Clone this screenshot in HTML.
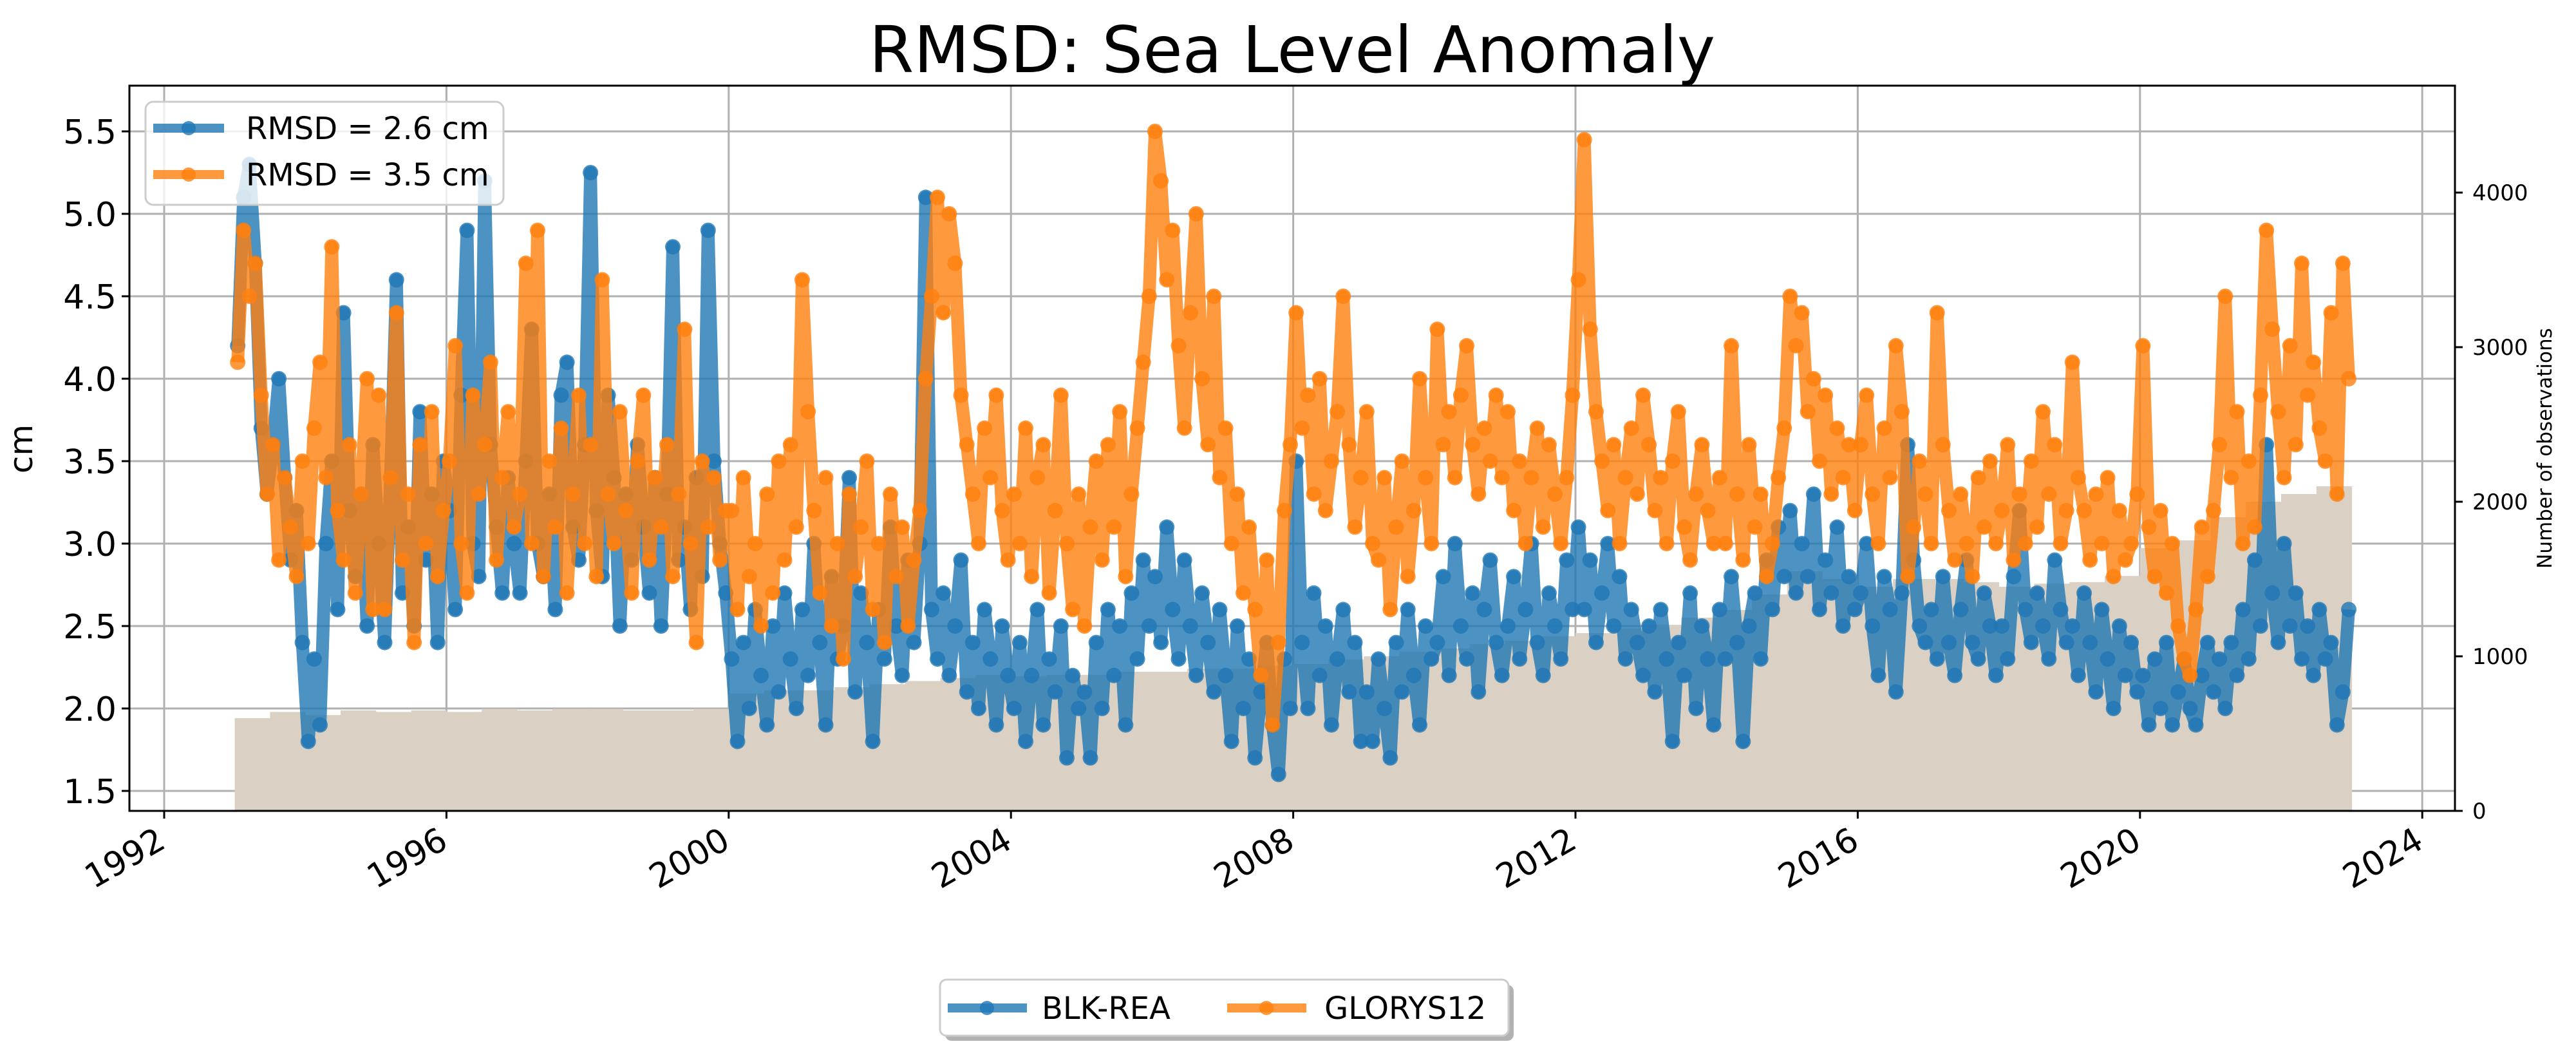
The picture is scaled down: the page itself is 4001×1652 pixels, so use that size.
<!DOCTYPE html>
<html><head><meta charset="utf-8"><style>
html,body{margin:0;padding:0;background:#fff;}
svg{display:block;font-family:"DejaVu Sans","Liberation Sans",sans-serif;}
</style></head><body>
<svg id="chart" width="4001" height="1652" viewBox="0 0 4001 1652" xmlns="http://www.w3.org/2000/svg">
<rect width="4001" height="1652" fill="#fff"/>
<text x="2007" y="112" font-size="100" text-anchor="middle">RMSD: Sea Level Anomaly</text>
<g id="grid"></g>
<g id="bars"></g>
<g id="series"></g>
<g id="axes"></g>
<text x="50" y="697" font-size="50" text-anchor="middle" transform="rotate(-90 50 697)">cm</text>
<text x="3963" y="696" font-size="31" text-anchor="middle" transform="rotate(-90 3963 696)">Number of observations</text>
<g>
<rect x="226" y="158" width="556" height="160" rx="12" fill="#fff" fill-opacity="0.8" stroke="#cccccc" stroke-width="3"/>
<line x1="238" y1="199" x2="348" y2="199" stroke="#1f77b4" stroke-opacity="0.8" stroke-width="14"/>
<circle cx="293" cy="199" r="11" fill="#1f77b4" fill-opacity="0.8"/>
<text x="382" y="216" font-size="48">RMSD = 2.6 cm</text>
<line x1="238" y1="271" x2="348" y2="271" stroke="#ff7f0e" stroke-opacity="0.8" stroke-width="14"/>
<circle cx="293" cy="271" r="11" fill="#ff7f0e" fill-opacity="0.8"/>
<text x="382" y="288" font-size="48">RMSD = 3.5 cm</text>
</g>
<g>
<rect x="1468" y="1529" width="883" height="87" rx="10" fill="#000" fill-opacity="0.3"/>
<rect x="1460" y="1521" width="883" height="87" rx="10" fill="#fff" stroke="#cccccc" stroke-width="3"/>
<line x1="1472" y1="1565" x2="1595" y2="1565" stroke="#1f77b4" stroke-opacity="0.8" stroke-width="14"/>
<circle cx="1533" cy="1565" r="11" fill="#1f77b4" fill-opacity="0.8"/>
<text x="1618" y="1582" font-size="48">BLK-REA</text>
<line x1="1906" y1="1565" x2="2029" y2="1565" stroke="#ff7f0e" stroke-opacity="0.8" stroke-width="14"/>
<circle cx="1967" cy="1565" r="11" fill="#ff7f0e" fill-opacity="0.8"/>
<text x="2057" y="1582" font-size="48">GLORYS12</text>
</g>
</svg>
<script>
var startYear = 1993;
var blkRea = [
4.2,5.1,5.3,4.7,3.7,3.3,3.6,4.0,3.4,2.9,3.2,2.4,
1.8,2.3,1.9,3.0,3.5,2.6,4.4,3.2,2.8,3.3,2.5,3.6,
3.0,2.4,3.4,4.6,2.7,3.1,2.5,3.8,2.9,3.3,2.4,3.5,
3.2,2.6,3.9,4.9,3.0,2.8,5.2,3.6,3.1,2.7,3.4,3.0,
2.7,3.5,4.3,3.0,2.8,3.3,2.6,3.9,4.1,3.1,2.9,3.6,
5.25,3.2,2.8,3.9,3.4,2.5,3.3,2.9,3.6,3.1,2.7,3.4,
2.5,3.3,4.8,2.9,3.1,2.6,3.4,2.8,4.9,3.5,3.0,2.7,
2.3,1.8,2.4,2.0,2.6,2.2,1.9,2.5,2.1,2.7,2.3,2.0,
2.6,2.2,3.0,2.4,1.9,2.8,2.3,2.5,3.4,2.1,2.7,2.4,
1.8,2.6,2.3,3.1,2.5,2.2,2.9,2.4,3.0,5.1,2.6,2.3,
2.7,2.2,2.5,2.9,2.1,2.4,2.0,2.6,2.3,1.9,2.5,2.2,
2.0,2.4,1.8,2.2,2.6,1.9,2.3,2.1,2.5,1.7,2.2,2.0,
2.1,1.7,2.4,2.0,2.6,2.2,2.5,1.9,2.7,2.3,2.9,2.5,
2.8,2.4,3.1,2.6,2.3,2.9,2.5,2.2,2.7,2.4,2.1,2.6,
2.2,1.8,2.5,2.0,2.3,1.7,2.1,2.4,1.9,1.6,2.3,2.0,
3.5,2.4,2.0,2.7,2.2,2.5,1.9,2.3,2.6,2.1,2.4,1.8,
2.1,1.8,2.3,2.0,1.7,2.4,2.1,2.6,2.2,1.9,2.5,2.3,
2.4,2.8,2.2,3.0,2.5,2.3,2.7,2.1,2.6,2.9,2.4,2.2,
2.5,2.8,2.3,2.6,3.0,2.4,2.2,2.7,2.5,2.3,2.9,2.6,
3.1,2.6,2.9,2.4,2.7,3.0,2.5,2.8,2.3,2.6,2.4,2.2,
2.5,2.1,2.6,2.3,1.8,2.4,2.2,2.7,2.0,2.5,2.3,1.9,
2.6,2.3,2.8,2.4,1.8,2.5,2.7,2.3,2.9,2.6,3.1,2.8,
3.2,2.7,3.0,2.8,3.3,2.6,2.9,2.7,3.1,2.5,2.8,2.6,
2.7,3.0,2.5,2.2,2.8,2.6,2.1,2.7,3.6,2.9,2.5,2.4,
2.6,2.3,2.8,2.4,2.2,2.6,2.9,2.4,2.3,2.7,2.5,2.2,
2.5,2.3,2.8,3.2,2.6,2.4,2.7,2.5,2.3,2.9,2.6,2.4,
2.5,2.2,2.7,2.4,2.1,2.6,2.3,2.0,2.5,2.2,2.4,2.1,
2.2,1.9,2.3,2.0,2.4,1.9,2.1,2.3,2.0,1.9,2.2,2.4,
2.1,2.3,2.0,2.4,2.2,2.6,2.3,2.9,2.5,3.6,2.7,2.4,
3.0,2.5,2.7,2.3,2.5,2.2,2.6,2.3,2.4,1.9,2.1,2.6];
var glorys12 = [
4.1,4.9,4.5,4.7,3.9,3.3,3.6,2.9,3.4,3.1,2.8,3.5,
3.0,3.7,4.1,3.4,4.8,3.2,2.9,3.6,2.7,3.3,4.0,2.6,
3.9,2.6,3.4,4.4,2.9,3.3,2.4,3.6,3.0,3.8,2.8,3.2,
3.5,4.2,3.0,2.7,3.9,3.3,3.6,4.1,2.9,3.4,3.8,3.1,
3.3,4.7,3.0,4.9,2.8,3.5,3.1,3.7,2.7,3.3,3.9,3.0,
3.6,2.8,4.6,3.3,3.0,3.8,3.2,2.7,3.5,3.9,2.9,3.4,
3.1,3.6,2.8,3.3,4.3,3.0,2.4,3.5,3.1,3.4,2.9,3.2,
3.2,2.6,3.4,2.8,3.0,2.5,3.3,2.7,3.5,2.9,3.6,3.1,
4.6,3.8,3.2,2.7,3.4,2.5,3.0,2.3,3.3,2.8,3.1,3.5,
2.6,3.0,2.4,3.3,2.8,3.1,2.5,2.9,3.2,4.0,4.5,5.1,
4.4,5.0,4.7,3.9,3.6,3.3,3.0,3.7,3.4,3.9,3.2,2.9,
3.3,3.0,3.7,2.8,3.4,3.6,2.7,3.2,3.9,3.0,2.6,3.3,
2.5,3.1,3.5,2.9,3.6,3.1,3.8,2.8,3.3,3.7,4.1,4.5,
5.5,5.2,4.6,4.9,4.2,3.7,4.4,5.0,4.0,3.6,4.5,3.4,
3.7,3.0,3.3,2.7,3.1,2.6,2.2,2.9,1.9,2.4,3.2,3.6,
4.4,3.7,3.9,3.3,4.0,3.2,3.5,3.8,4.5,3.6,3.1,3.4,
3.8,3.0,2.9,3.4,2.6,3.1,3.5,2.8,3.2,4.0,3.4,3.0,
4.3,3.6,3.8,3.4,3.9,4.2,3.6,3.3,3.7,3.5,3.9,3.4,
3.8,3.2,3.5,3.0,3.4,3.7,3.1,3.6,3.3,3.0,3.4,3.9,
4.6,5.45,4.3,3.8,3.5,3.2,3.6,3.0,3.4,3.7,3.3,3.9,
3.6,3.2,3.4,3.0,3.5,3.8,3.1,2.9,3.3,3.6,3.2,3.0,
3.4,3.0,4.2,3.3,2.9,3.6,3.1,3.3,2.8,3.0,3.4,3.7,
4.5,4.2,4.4,3.8,4.0,3.5,3.9,3.3,3.7,3.4,3.6,3.2,
3.6,3.9,3.3,3.0,3.7,3.4,4.2,3.8,2.8,3.1,3.5,3.3,
3.0,4.4,3.6,3.2,2.9,3.3,3.0,2.8,3.4,3.1,3.5,3.0,
3.2,3.6,2.9,3.3,3.0,3.5,3.1,3.8,3.3,3.6,3.0,3.2,
4.1,3.4,3.2,2.9,3.3,3.0,3.4,2.8,3.2,2.9,3.0,3.3,
4.2,3.1,2.8,3.2,2.7,3.0,2.5,2.3,2.2,2.6,3.1,2.8,
3.2,3.6,4.5,3.4,3.8,3.0,3.5,3.1,3.9,4.9,4.3,3.8,
3.4,4.2,3.6,4.7,3.9,4.1,3.7,3.5,4.4,3.3,4.7,4.0];
var obsHalfYear = [600,640,620,650,640,650,640,660,650,660,660,650,650,660,
760,780,780,800,820,840,860,880,870,880,880,900,900,920,920,940,950,980,
1000,1030,1050,1080,1100,1130,1150,1180,1200,1250,1300,1400,1550,1500,
1450,1500,1500,1480,1450,1470,1480,1520,1700,1750,1900,2000,2050,2100];
var yTicks = [1.5,2.0,2.5,3.0,3.5,4.0,4.5,5.0,5.5];
var y2Ticks = [0,1000,2000,3000,4000];
var xTickYears = [1992,1996,2000,2004,2008,2012,2016,2020,2024];

var L=201,R=3813,T=133,B=1259;
function xs(yr){return 255+(yr-1992)*109.6;}
function ys(v){return 1228-(v-1.5)*256;}
function y2s(v){return B-v*0.24;}
var NS='http://www.w3.org/2000/svg';
function mk(tag,attrs,parent){var e=document.createElementNS(NS,tag);for(var k in attrs)e.setAttribute(k,attrs[k]);parent.appendChild(e);return e;}
var grid=document.getElementById('grid'),bars=document.getElementById('bars'),ser=document.getElementById('series'),axes=document.getElementById('axes');

yTicks.forEach(function(t){
  var g=mk('line',{x1:L,x2:R,y1:ys(t),y2:ys(t),stroke:'#b0b0b0','stroke-width':3},grid);
  
  
  var tk=mk('line',{x1:L-12,x2:L,y1:ys(t),y2:ys(t),stroke:'#000','stroke-width':3},axes);
  
  
  var lb=mk('text',{x:L-20,y:ys(t)+19,'font-size':52,'text-anchor':'end'},axes);
  lb.textContent=t.toFixed(1);
  
  
});
xTickYears.forEach(function(t){
  var x=xs(t);
  var g=mk('line',{x1:x,x2:x,y1:T,y2:B,stroke:'#b0b0b0','stroke-width':3},grid);
  
  
  var tk=mk('line',{x1:x,x2:x,y1:B,y2:B+12,stroke:'#000','stroke-width':3},axes);
  
  
  var lb=mk('text',{x:x-4,y:B+58,'font-size':52,'text-anchor':'end',transform:'rotate(-30 '+(x-4)+' '+(B+40)+')'},axes);
  lb.textContent=String(t);
  
  
});
y2Ticks.forEach(function(t){
  var tk=mk('line',{x1:R,x2:R+12,y1:y2s(t),y2:y2s(t),stroke:'#000','stroke-width':3},axes);
  
  
  var lb=mk('text',{x:R+27,y:y2s(t)+12,'font-size':34},axes);
  lb.textContent=String(t);
  
  
});
obsHalfYear.forEach(function(v,i){
  var x0=xs(startYear+i*0.5),x1=xs(startYear+(i+1)*0.5);
  var r=mk('rect',{x:x0,y:y2s(v),width:x1-x0+0.5,height:B-y2s(v),fill:'#dbd0c4'},bars);
  
  
});
function drawSeries(vals,color,name){
  var g=mk('g',{},ser);
  
  
  var d='';
  vals.forEach(function(v,i){var x=xs(startYear+(i+0.5)/12),y=ys(v);d+=(i?'L':'M')+x.toFixed(1)+' '+y.toFixed(1);});
  var p=mk('path',{d:d,fill:'none',stroke:color,'stroke-width':20,'stroke-opacity':0.8,'stroke-linejoin':'round'},g);
  
  
  vals.forEach(function(v,i){
    var c=mk('circle',{cx:xs(startYear+(i+0.5)/12),cy:ys(v),r:12,fill:color,'fill-opacity':0.8},g);
    
    
  });
}
drawSeries(blkRea,'#1f77b4','blk-rea');
drawSeries(glorys12,'#ff7f0e','glorys12');
var frame=mk('rect',{x:L,y:T,width:R-L,height:B-T,fill:'none',stroke:'#000','stroke-width':3},axes);


</script>
</body></html>
